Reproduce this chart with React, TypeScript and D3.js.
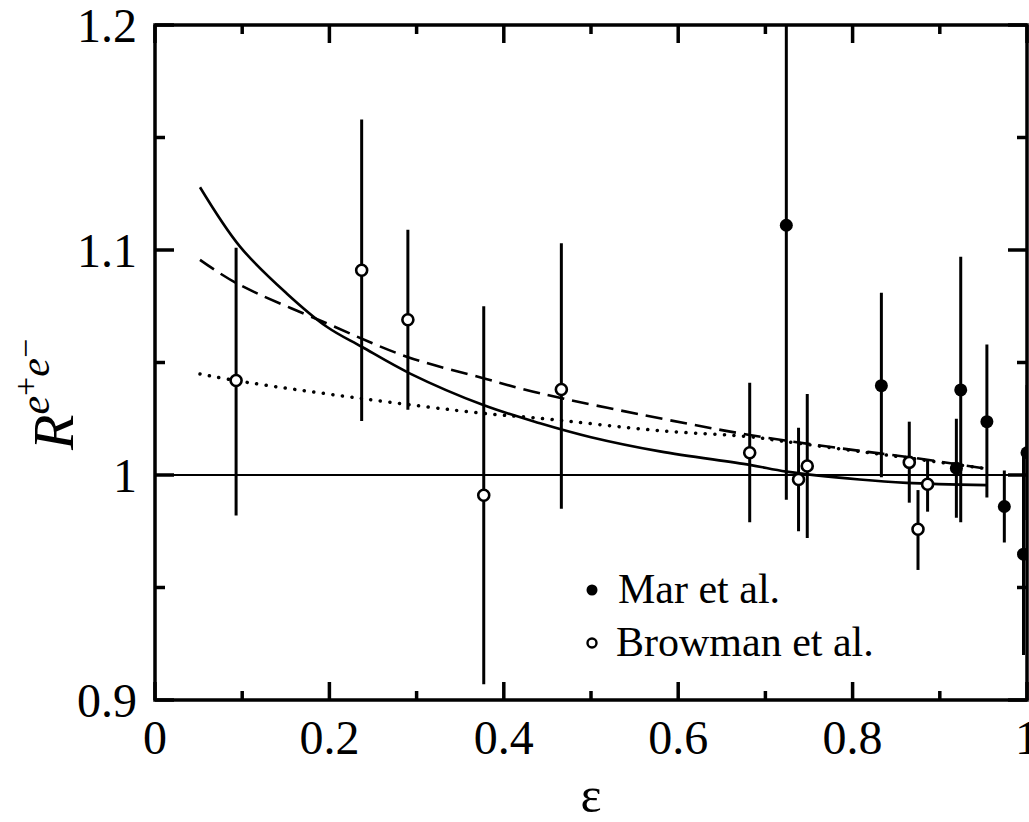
import React from "react"
import * as d3 from "d3"

// Mar et al. (filled): eps, R, lower, upper
const marEps = [0.724, 0.833, 0.919, 0.924, 0.954, 0.974, 0.996, 1.0]
const marR = [1.111, 1.0397, 1.003, 1.0378, 1.0237, 0.986, 0.9648, 1.0099]
const marLo = [0.989, 0.999, 0.981, 0.979, 0.99, 0.970, 0.92, 0.98]
const marHi = [1.233, 1.081, 1.025, 1.097, 1.058, 1.002, 1.01, 1.04]

// Browman et al. (open)
const browEps = [0.093, 0.237, 0.29, 0.377, 0.466, 0.682, 0.738, 0.748, 0.865, 0.875, 0.886]
const browR = [1.042, 1.091, 1.069, 0.991, 1.038, 1.0099, 0.998, 1.004, 1.0056, 0.9759, 0.9959]
const browLo = [0.982, 1.024, 1.029, 0.907, 0.985, 0.979, 0.975, 0.972, 0.9877, 0.9578, 0.9837]
const browHi = [1.101, 1.158, 1.109, 1.075, 1.103, 1.041, 1.021, 1.036, 1.0237, 0.9933, 1.0067]

// fit curves
const solidX = [0.0516, 0.0975, 0.151, 0.197, 0.237, 0.292, 0.3765, 0.4415, 0.5, 0.579, 0.682, 0.724, 0.808, 0.862, 0.954]
const solidY = [1.1279, 1.1015, 1.0807, 1.0659, 1.057, 1.0452, 1.0311, 1.023, 1.0168, 1.0105, 1.0045, 1.0015, 0.998, 0.9965, 0.9955]
const dashX = [0.0516, 0.0937, 0.197, 0.2886, 0.3765, 0.4415, 0.579, 0.682, 0.7855, 0.865, 0.95]
const dashY = [1.0956, 1.0852, 1.0674, 1.0526, 1.043, 1.0363, 1.0252, 1.0178, 1.0119, 1.0079, 1.003]
const dotX = [0.0516, 0.0937, 0.235, 0.3765, 0.4415, 0.579, 0.682, 0.724, 0.865, 0.95]
const dotY = [1.0449, 1.0419, 1.0341, 1.0274, 1.0252, 1.0197, 1.017, 1.0148, 1.0075, 1.003]

const xMajor = [0, 0.2, 0.4, 0.6, 0.8, 1]
const xMinor = [0.1, 0.3, 0.5, 0.7, 0.9]
const yMajor = [0.9, 1, 1.1, 1.2]
const yMinor = [0.95, 1.05, 1.15]
const yLabels = ["0.9", "1", "1.1", "1.2"]
const xLabels = ["0", "0.2", "0.4", "0.6", "0.8", "1"]

const W = 1029
const H = 822
const left = 155
const right = 1027
const top = 25
const bottom = 700

export default function App() {
  const x = d3.scaleLinear().domain([0, 1]).range([left, right])
  const y = d3.scaleLinear().domain([0.9, 1.2]).range([bottom, top])

  const mk = (xs: number[], ys: number[]) =>
    d3
      .line<number>()
      .x(i => x(xs[i]))
      .y(i => y(ys[i]))
      .curve(d3.curveCatmullRom.alpha(0.5))(xs.map((_, i) => i)) || ""

  const font = "'Liberation Serif', 'Times New Roman', serif"

  return (
    <svg
      width={W}
      height={H}
      style={{ position: "absolute", left: 0, top: 0, background: "white" }}
      fontFamily={font}
    >
      <defs>
        <clipPath id="plot">
          <rect x={left} y={top} width={right - left} height={bottom - top} />
        </clipPath>
      </defs>

      {/* reference line at 1 */}
      <line x1={left} x2={right} y1={y(1)} y2={y(1)} stroke="black" strokeWidth={2} />

      {/* curves */}
      <g fill="none" stroke="black" clipPath="url(#plot)">
        <path d={mk(solidX, solidY)} strokeWidth={2.6} />
        <path d={mk(dashX, dashY)} strokeWidth={2.6} strokeDasharray="17 8" />
        <path d={mk(dotX, dotY)} strokeWidth={3.5} strokeDasharray="0.1 9.5" strokeLinecap="round" />
      </g>

      {/* error bars */}
      <g stroke="black" strokeWidth={3} clipPath="url(#plot)">
        {marEps.map((e, i) => (
          <line key={"m" + i} x1={x(e)} x2={x(e)} y1={y(marLo[i])} y2={y(marHi[i])} />
        ))}
        {browEps.map((e, i) => (
          <line key={"b" + i} x1={x(e)} x2={x(e)} y1={y(browLo[i])} y2={y(browHi[i])} />
        ))}
      </g>

      {/* markers */}
      <g clipPath="url(#plot)">
        {marEps.map((e, i) => (
          <circle key={"mc" + i} cx={x(e)} cy={y(marR[i])} r={6.5} fill="black" />
        ))}
        {browEps.map((e, i) => (
          <circle
            key={"bc" + i}
            cx={x(e)}
            cy={y(browR[i])}
            r={5.5}
            fill="white"
            stroke="black"
            strokeWidth={2.6}
          />
        ))}
      </g>

      {/* frame */}
      <rect
        x={left}
        y={top}
        width={right - left}
        height={bottom - top}
        fill="none"
        stroke="black"
        strokeWidth={3.5}
      />

      {/* ticks */}
      <g stroke="black" strokeWidth={3.5}>
        {xMajor.map(v => (
          <g key={"xM" + v}>
            <line x1={x(v)} x2={x(v)} y1={bottom} y2={bottom - 18} />
            <line x1={x(v)} x2={x(v)} y1={top} y2={top + 18} />
          </g>
        ))}
        {xMinor.map(v => (
          <g key={"xm" + v}>
            <line x1={x(v)} x2={x(v)} y1={bottom} y2={bottom - 9} />
            <line x1={x(v)} x2={x(v)} y1={top} y2={top + 9} />
          </g>
        ))}
        {yMajor.map(v => (
          <g key={"yM" + v}>
            <line x1={left} x2={left + 19} y1={y(v)} y2={y(v)} />
            <line x1={right} x2={right - 19} y1={y(v)} y2={y(v)} />
          </g>
        ))}
        {yMinor.map(v => (
          <g key={"ym" + v}>
            <line x1={left} x2={left + 10} y1={y(v)} y2={y(v)} />
            <line x1={right} x2={right - 10} y1={y(v)} y2={y(v)} />
          </g>
        ))}
      </g>

      {/* tick labels */}
      <g fontSize={48} fill="black">
        {yMajor.map((v, i) => (
          <text key={"yl" + v} x={left - 18} y={y(v) + 17} textAnchor="end">
            {yLabels[i]}
          </text>
        ))}
        {xMajor.map((v, i) => (
          <text key={"xl" + v} x={x(v)} y={bottom + 54} textAnchor="middle">
            {xLabels[i]}
          </text>
        ))}
      </g>

      {/* axis titles */}
      <text x={(left + right) / 2} y={812} fontSize={50} textAnchor="middle">
        ε
      </text>
      <text transform="translate(73,450) rotate(-90)" fontSize={58} fontStyle="italic">
        R
        <tspan fontSize={42} dy={-24}>e</tspan>
        <tspan fontSize={34} fontStyle="normal" dy={-12}>+</tspan>
        <tspan fontSize={42} dy={12}>e</tspan>
        <tspan fontSize={34} fontStyle="normal" dy={-12}>−</tspan>
      </text>

      {/* legend */}
      <circle cx={592} cy={590} r={5.5} fill="black" />
      <text x={618} y={603} fontSize={42}>
        Mar et al.
      </text>
      <circle cx={592} cy={643} r={4.5} fill="white" stroke="black" strokeWidth={2.4} />
      <text x={616} y={656} fontSize={42}>
        Browman et al.
      </text>
    </svg>
  )
}
